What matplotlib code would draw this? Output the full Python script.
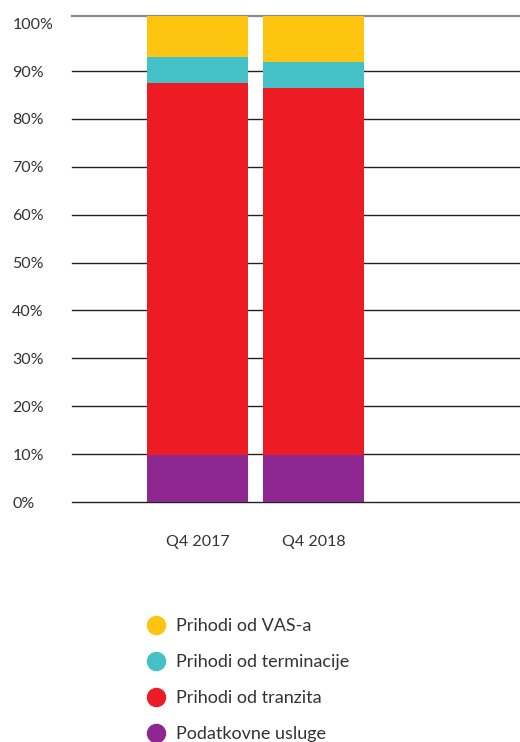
import numpy as np
import matplotlib.pyplot as plt
from matplotlib.lines import Line2D

plt.rcParams['font.family'] = ['Lato', 'DejaVu Sans']

quarters = ['Q4 2017', 'Q4 2018']
podatkovne = [9.9, 9.9]
tranzit = [77.6, 76.6]
terminacija = [5.4, 5.4]
vas = [8.7, 9.7]
labels = ['Prihodi od VAS-a', 'Prihodi od terminacije', 'Prihodi od tranzita', 'Podatkovne usluge']
colors = ['#FDC50F', '#43C1C6', '#ED1C24', '#8E278F']

fig = plt.figure(figsize=(5.2, 7.42), dpi=100)
ax = fig.add_axes([72/520, 1-502/742, 448/520, (502-15.5)/742])

x = np.arange(len(quarters))
w = 101/116
bottom = np.zeros(2)
for vals, c in zip([podatkovne, tranzit, terminacija, vas], colors[::-1]):
    ax.bar(x, vals, w, bottom=bottom, color=c, zorder=3)
    bottom += np.array(vals)

ax.set_ylim(0, 101.6)
ax.set_xlim(-1.082, 2.78)
yt = np.arange(0, 101, 10)
ax.set_yticks(yt)
ax.set_yticklabels(['%d%%' % v for v in yt], ha='left', fontsize=11.5, color='#333333')
ax.tick_params(axis='y', length=0, pad=43)
ax.set_xticks(x)
ax.set_xticklabels(quarters, fontsize=11.5, color='#333333')
ax.tick_params(axis='x', length=0, pad=24)
for v in yt[:-1]:
    ax.axhline(v, color='#222222', lw=1, zorder=1, clip_on=False)
for s in ['left', 'right', 'bottom']:
    ax.spines[s].set_visible(False)
ax.spines['top'].set_color('#8a8a8a')
ax.spines['top'].set_linewidth(1.6)

handles = [Line2D([], [], marker='o', ls='', markersize=13, color=c) for c in colors]
fig.legend(handles, labels, loc='upper left', bbox_to_anchor=(122/520, 1-602/742),
           frameon=False, fontsize=13, labelspacing=1.1, handletextpad=0.1,
           labelcolor='#333333')

fig.savefig('out.png', dpi=100)
